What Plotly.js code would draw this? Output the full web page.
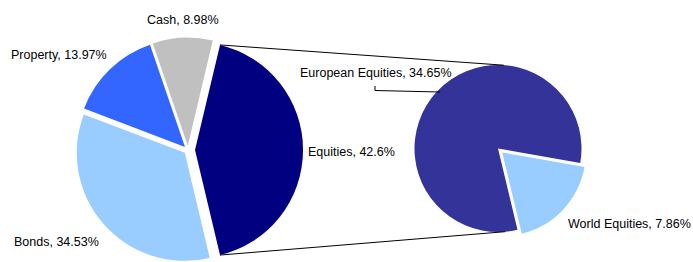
<!DOCTYPE html>
<html><head><meta charset="utf-8">
<script src="https://cdn.plot.ly/plotly-3.0.1.min.js"></script>
<style>
html,body{margin:0;padding:0;background:#fff;overflow:hidden}
#wrap{width:693px;height:262px;overflow:hidden;position:relative}
#chart{width:693px;height:300px;position:absolute;left:0;top:0}
</style>
</head><body><div id="wrap"><div id="chart"></div></div>
<script>
// Data
const mainLabels = ['Equities', 'Bonds', 'Property', 'Cash'];
const mainValues = [42.6, 34.53, 13.97, 8.98];
const subLabels = ['European Equities', 'World Equities'];
const subValues = [34.65, 7.86];

// Styles
const mainColors = ['#000080', '#99CCFF', '#3366FF', '#C0C0C0'];
const subColors = ['#333399', '#99CCFF'];
const mainPull = [0.065, 0.04, 0.04, 0.04];
const subPull = [0, 0.07];

const W = 693, H = 300;
const px = x => x / W;
const py = y => 1 - y / H;

// Geometry (pixels)
const c1 = {x: 188, y: 150, r: 108};
const c2 = {x: 498, y: 148.5, r: 83.5};
const maxP1 = Math.max(...mainPull), maxP2 = Math.max(...subPull);
const hb1 = c1.r * (1 + maxP1), hb2 = c2.r * (1 + maxP2);

const mainTotal = mainValues.reduce((a, b) => a + b, 0);
const eqSpan = 360 * mainValues[0] / mainTotal;
const rot1 = 90 - eqSpan / 2;
const rot2 = 166.5;

const fmt = (l, v) => l + ', ' + v + '%';

const traces = [
  {
    type: 'pie', labels: mainLabels, values: mainValues, sort: false,
    direction: 'clockwise', rotation: rot1, pull: mainPull,
    marker: {colors: mainColors, line: {width: 0}},
    textinfo: 'none', hoverinfo: 'label+value', showlegend: false,
    domain: {x: [px(c1.x - hb1), px(c1.x + hb1)], y: [py(c1.y + hb1), py(c1.y - hb1)]}
  },
  {
    type: 'pie', labels: subLabels, values: subValues, sort: false,
    direction: 'clockwise', rotation: rot2, pull: subPull,
    marker: {colors: subColors, line: {width: 0}},
    textinfo: 'none', hoverinfo: 'label+value', showlegend: false,
    domain: {x: [px(c2.x - hb2), px(c2.x + hb2)], y: [py(c2.y + hb2), py(c2.y - hb2)]}
  }
];

// connector lines from equities slice edges to secondary pie
const d2r = Math.PI / 180;
const eqMid = rot1 + eqSpan / 2;
const eqCx = c1.x + mainPull[0] * c1.r * Math.sin(eqMid * d2r);
const eqCy = c1.y - mainPull[0] * c1.r * Math.cos(eqMid * d2r);
const pt = (cx, cy, r, a) => [cx + r * Math.sin(a * d2r), cy - r * Math.cos(a * d2r)];
const eTop = pt(eqCx, eqCy, c1.r, rot1);
const eBot = pt(eqCx, eqCy, c1.r, rot1 + eqSpan);
const sTop = pt(c2.x, c2.y, c2.r, 4);
const sBot = pt(c2.x, c2.y, c2.r, 175);

const lineStyle = {color: '#000', width: 1};
const shapes = [
  {type: 'line', xref: 'paper', yref: 'paper', x0: px(eTop[0]), y0: py(eTop[1]), x1: px(sTop[0]), y1: py(sTop[1]), line: lineStyle},
  {type: 'line', xref: 'paper', yref: 'paper', x0: px(eBot[0]), y0: py(eBot[1]), x1: px(sBot[0]), y1: py(sBot[1]), line: lineStyle},
  {type: 'path', xref: 'paper', yref: 'paper',
   path: 'M ' + px(375) + ' ' + py(86) + ' L ' + px(375) + ' ' + py(90.5) + ' L ' + px(440) + ' ' + py(92),
   line: {color: '#000', width: 1}}
];

const font = {family: 'Liberation Sans, Arial, sans-serif', size: 12.5, color: '#000'};
const ann = (text, x, y) => ({
  text: text, xref: 'paper', yref: 'paper', x: px(x), y: py(y),
  xanchor: 'left', yanchor: 'middle', showarrow: false, borderpad: 0, font: font
});
const annotations = [
  ann(fmt(mainLabels[3], mainValues[3]), 146, 20),
  ann(fmt(mainLabels[2], mainValues[2]), 10, 55),
  ann(fmt(mainLabels[1], mainValues[1]), 13, 242),
  ann(fmt(mainLabels[0], mainValues[0]), 307, 152),
  ann(fmt(subLabels[0], subValues[0]), 299, 73),
  ann(fmt(subLabels[1], subValues[1]), 567, 224)
];

Plotly.newPlot('chart', traces, {
  width: W, height: H, margin: {l: 0, r: 0, t: 0, b: 0},
  paper_bgcolor: '#fff', plot_bgcolor: '#fff',
  shapes: shapes, annotations: annotations, showlegend: false
}, {displayModeBar: false, staticPlot: true});
</script>
</body></html>
